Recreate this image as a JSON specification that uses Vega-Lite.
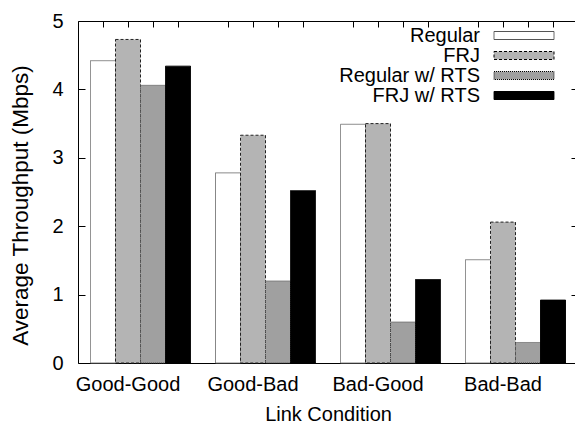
{
  "$schema": "https://vega.github.io/schema/vega-lite/v6.json",
  "width": 500,
  "height": 342,
  "autosize": {"type": "none"},
  "padding": {"left": 78, "top": 21, "right": 0, "bottom": 61},
  "background": "white",
  "config": {
    "font": "Liberation Sans",
    "view": {"stroke": "black", "strokeWidth": 1},
    "axis": {"labelColor": "black", "titleColor": "black", "tickColor": "black", "labelFont": "Liberation Sans", "titleFont": "Liberation Sans", "titleFontWeight": "normal"}
  },
  "data": {
    "values": [
      {"condition": "Good-Good", "series": "Regular", "value": 4.42},
      {"condition": "Good-Good", "series": "FRJ", "value": 4.73},
      {"condition": "Good-Good", "series": "Regular w/ RTS", "value": 4.06},
      {"condition": "Good-Good", "series": "FRJ w/ RTS", "value": 4.34},
      {"condition": "Good-Bad", "series": "Regular", "value": 2.78},
      {"condition": "Good-Bad", "series": "FRJ", "value": 3.33},
      {"condition": "Good-Bad", "series": "Regular w/ RTS", "value": 1.2},
      {"condition": "Good-Bad", "series": "FRJ w/ RTS", "value": 2.52},
      {"condition": "Bad-Good", "series": "Regular", "value": 3.49},
      {"condition": "Bad-Good", "series": "FRJ", "value": 3.5},
      {"condition": "Bad-Good", "series": "Regular w/ RTS", "value": 0.6},
      {"condition": "Bad-Good", "series": "FRJ w/ RTS", "value": 1.22},
      {"condition": "Bad-Bad", "series": "Regular", "value": 1.51},
      {"condition": "Bad-Bad", "series": "FRJ", "value": 2.06},
      {"condition": "Bad-Bad", "series": "Regular w/ RTS", "value": 0.3},
      {"condition": "Bad-Bad", "series": "FRJ w/ RTS", "value": 0.92}
    ]
  },
  "layer": [
    {
      "mark": {"type": "bar", "strokeWidth": 1},
      "encoding": {
        "x": {
          "field": "condition", "type": "nominal",
          "sort": ["Good-Good", "Good-Bad", "Bad-Good", "Bad-Bad"],
          "scale": {"paddingInner": 0.2, "paddingOuter": 0.1},
          "axis": {"title": "Link Condition", "labelAngle": 0, "labelFontSize": 20, "titleFontSize": 20, "ticks": false, "domain": false, "labelBaseline": "alphabetic", "labelPadding": 27, "labelOffset": -12.5, "titleY": 57, "titleBaseline": "alphabetic"}
        },
        "xOffset": {
          "field": "series", "type": "nominal",
          "sort": ["Regular", "FRJ", "Regular w/ RTS", "FRJ w/ RTS"],
          "scale": {"paddingInner": 0, "paddingOuter": 0}
        },
        "y": {
          "field": "value", "type": "quantitative",
          "scale": {"domain": [0, 5], "nice": false},
          "axis": {"title": "Average Throughput (Mbps)", "values": [0, 1, 2, 3, 4, 5], "tickSize": -7, "labelPadding": 22, "labelFontSize": 20, "titleFontSize": 22.5, "grid": false, "domain": false, "titleX": -50.5, "titleY": 184, "titleBaseline": "alphabetic"}
        },
        "fill": {
          "field": "series", "type": "nominal",
          "sort": ["Regular", "FRJ", "Regular w/ RTS", "FRJ w/ RTS"],
          "scale": {"range": ["#ffffff", "#b4b4b4", "#a0a0a0", "#000000"]},
          "legend": {
            "title": null, "orient": "none", "legendX": 436, "legendY": 4.5,
            "symbolType": "M-6,-0.8H6V0.8H-6Z", "symbolSize": 100, "symbolStrokeWidth": 1, "symbolOpacity": 1,
            "labelAlign": "right", "labelOffset": -54, "labelFontSize": 20, "labelFont": "Liberation Sans", "labelColor": "black", "labelLimit": 400,
            "rowPadding": 0, "padding": 0,
            "encode": {
              "symbols": {
                "update": {
                  "stroke": {"signal": "datum.value === 'Regular' ? '#555555' : '#000000'"},
                  "strokeWidth": {"value": 1},
                  "strokeDash": {"signal": "datum.value === 'FRJ' ? [3, 2] : datum.value === 'Regular w/ RTS' ? [1, 1] : [1, 0]"}
                }
              }
            }
          }
        },
        "stroke": {
          "field": "series", "type": "nominal",
          "sort": ["Regular", "FRJ", "Regular w/ RTS", "FRJ w/ RTS"],
          "scale": {"range": ["#777777", "#222222", "#444444", "#000000"]},
          "legend": null
        },
        "strokeDash": {
          "field": "series", "type": "nominal",
          "sort": ["Regular", "FRJ", "Regular w/ RTS", "FRJ w/ RTS"],
          "scale": {"range": [[1, 0], [3, 2], [1, 1], [1, 0]]},
          "legend": null
        }
      }
    },
    {
      "mark": {"type": "point", "opacity": 0},
      "encoding": {
        "x": {
          "datum": 10, "type": "quantitative",
          "scale": {"domain": [0, 20], "nice": false, "zero": false},
          "axis": {"orient": "top", "values": [1, 2, 3, 4, 6, 7, 8, 9, 11, 12, 13, 14, 16, 17, 18, 19], "labels": false, "tickSize": -6, "domain": false, "grid": false, "title": null}
        },
        "y": {
          "datum": 0, "type": "quantitative",
          "axis": {"orient": "right", "values": [1, 2, 3, 4], "labels": false, "tickSize": -7, "domain": false, "grid": false, "title": null}
        }
      }
    }
  ],
  "resolve": {"scale": {"x": "independent"}, "axis": {"x": "independent", "y": "independent"}}
}
